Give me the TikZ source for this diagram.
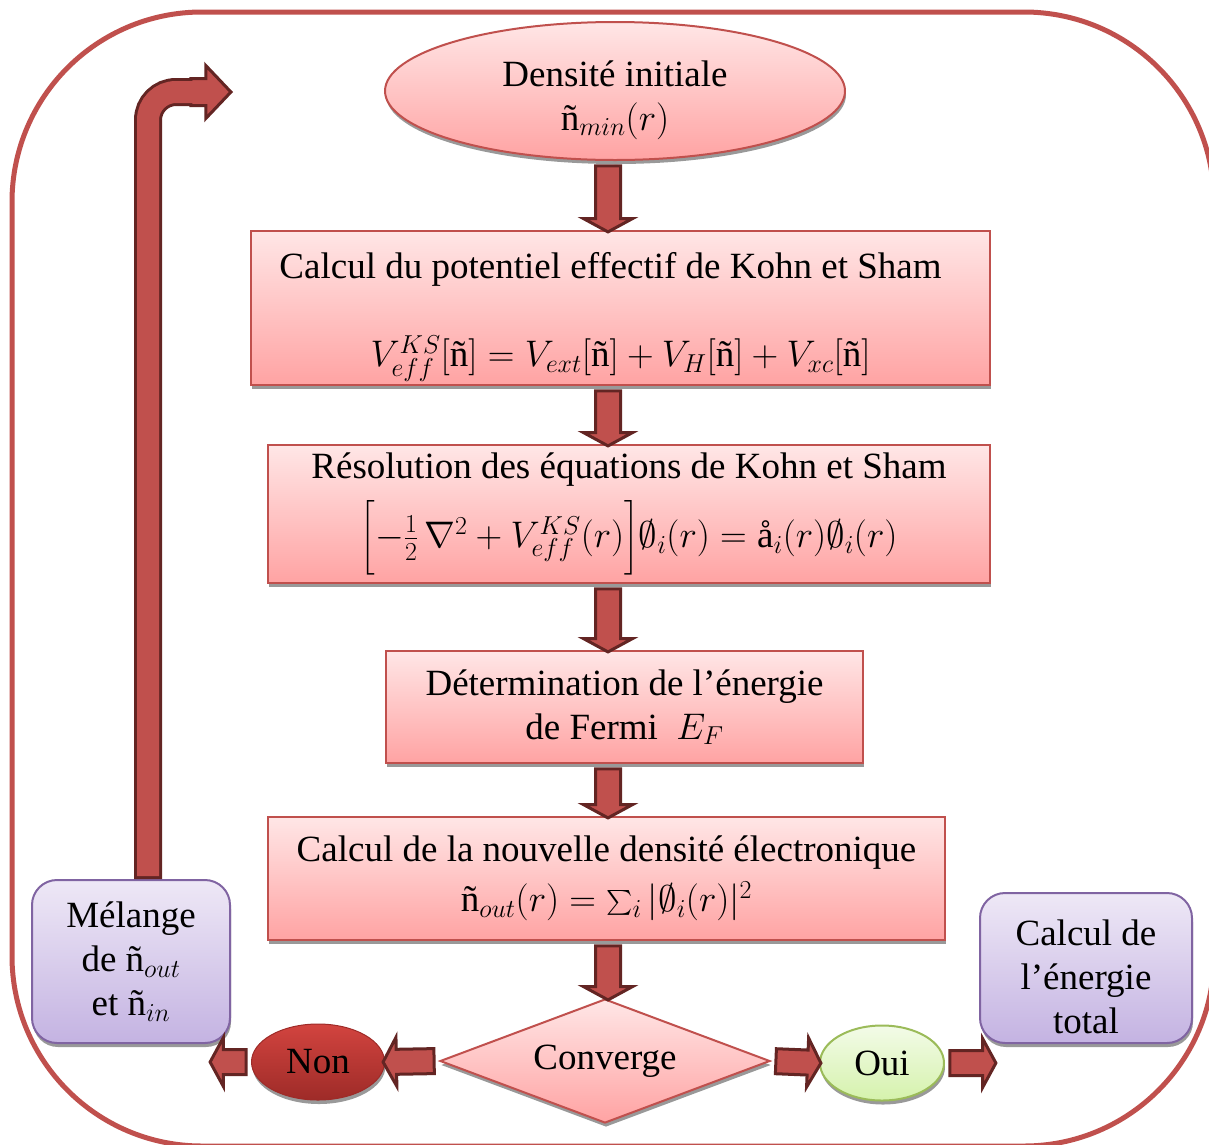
\RequirePackage{fix-cm}
\documentclass[tikz,border=0pt]{standalone}
\usepackage{amsmath}
\usepackage{fontspec}
\setmainfont{Liberation Serif}
\usetikzlibrary{shapes.geometric}
\usetikzlibrary{shapes.arrows}
\usetikzlibrary{shadows}
\usetikzlibrary{calc}
\definecolor{kred}{HTML}{C0504D}
\definecolor{kdark}{HTML}{632523}
\definecolor{pinktop}{HTML}{FFE6E6}
\definecolor{pinkbot}{HTML}{FFA3A3}
\definecolor{lilatop}{HTML}{EEE8F6}
\definecolor{lilabot}{HTML}{C4B3E2}
\definecolor{lilaborder}{HTML}{8064A2}
\definecolor{nontop}{HTML}{D2443F}
\definecolor{nonbot}{HTML}{9E2B28}
\definecolor{ouitop}{HTML}{F3FBE8}
\definecolor{ouibot}{HTML}{D5F2AC}
\definecolor{ouiborder}{HTML}{9BBB59}
\newcommand\dens{\text{ñ}}
\tikzset{
  base/.style      = { font=\fontsize{37}{44}\selectfont, inner sep=0pt, align=center },
  boxshadow/.style = { drop shadow={shadow xshift=1pt, shadow yshift=-4pt, fill=black!40, opacity=1} },
  pinkfill/.style  = { draw=kred, line width=2pt, top color=pinktop, bottom color=pinkbot, boxshadow },
}
\tikzset{
  calcbox/.style   = { base, rectangle, pinkfill },
  startnode/.style = { base, ellipse, pinkfill },
  testnode/.style  = { base, diamond, pinkfill, shape aspect=2.6 },
  mixbox/.style    = { base, rectangle, rounded corners=25pt, draw=lilaborder, line width=2pt,
                       top color=lilatop, bottom color=lilabot, boxshadow },
  nonnode/.style   = { base, ellipse, draw=nonbot, line width=1pt, top color=nontop, bottom color=nonbot, boxshadow },
  ouinode/.style   = { base, ellipse, draw=ouiborder, line width=2pt, top color=ouitop, bottom color=ouibot, boxshadow },
  bigarrow/.style  = { single arrow, draw=kdark, fill=kred, line width=3pt, inner sep=0pt, inner ysep=11pt,
                       single arrow head extend=12pt, single arrow tip angle=123, single arrow head indent=0pt },
  bendhead/.style  = { inner ysep=12pt, single arrow head extend=13pt, single arrow tip angle=93, minimum height=40pt },
}
% block arrow between two points
\newcommand\blockarrow[3]{%
  \path let \p1=(#2), \p2=(#3), \n1={veclen(\x2-\x1,\y2-\y1)-3pt} in
    (#2) -- (#3) node (#1) [bigarrow, midway, sloped, allow upside down, minimum height=\n1] {};}

\begin{document}
\begin{tikzpicture}[x=1pt,y=-1pt]
  \useasboundingbox (0,0) rectangle (1209,1144);
  \draw [kred, line width=5pt, rounded corners=190pt] (12,12) rectangle (1214,1146);

  \node (init) [startnode, minimum width=460pt, minimum height=138pt] at (615,91)
        {\rule{0pt}{44pt}Densité initiale\\$\dens_{min}(r)$};
  \node (pot)  [calcbox, minimum width=739pt, minimum height=154pt] at (620.5,308)
        {\rule{0pt}{44pt}Calcul du potentiel effectif de Kohn et Sham\hspace*{20pt}\\[44pt]
         $V^{KS}_{eff}[\dens]=V_{ext}[\dens]+V_H[\dens]+V_{xc}[\dens]$};
  \node (ks)   [calcbox, minimum width=722pt, minimum height=138pt] at (629,514)
        {Résolution des équations de Kohn et Sham\\[14pt]
         $\Bigl[-\genfrac{}{}{}{1}{1}{2}\,\nabla^2+V^{KS}_{eff}(r)\Bigr]\emptyset_i(r)=\text{å}_i(r)\emptyset_i(r)$};
  \node (fermi)[calcbox, minimum width=477pt, minimum height=112pt] at (624.5,707)
        {Détermination de l’énergie\\de Fermi~ $E_F$};
  \node (dens) [calcbox, minimum width=677pt, minimum height=123pt] at (606.5,878.5)
        {Calcul de la nouvelle densité électronique\\[6pt]$\dens_{out}(r)=\sum_i|\emptyset_i(r)|^2$};
  \node (conv) [testnode, minimum width=330pt, minimum height=124pt] at (605,1061) {Converge};
  \node (non)  [nonnode, minimum width=133pt, minimum height=76pt] at (318,1062) {Non};
  \node (oui)  [ouinode, minimum width=124pt, minimum height=75pt] at (882,1063) {Oui};
  \node (mix)  [mixbox, minimum width=198pt, minimum height=163pt] at (131,961.5)
        {Mélange\\de $\dens_{out}$\\et $\dens_{in}$};
  \node (etot) [mixbox, minimum width=212pt, minimum height=150pt] at (1086,968)
        {\rule{0pt}{44pt}Calcul de\\l’énergie\\total};

  \coordinate (spine)    at (608,0);
  \coordinate (mixin)    at (212,1062);
  \coordinate (totin)    at (994,1063);
  \coordinate (loopend)  at (233,92);
  \coordinate (loopbase) at (212,92);

  \blockarrow{a1}{init.south -| spine}{pot.north -| spine}
  \blockarrow{a2}{pot.south -| spine}{ks.north -| spine}
  \blockarrow{a3}{ks.south -| spine}{fermi.north -| spine}
  \blockarrow{a4}{fermi.south -| spine}{dens.north -| spine}
  \blockarrow{a5}{dens.south -| spine}{conv.north -| spine}
  \blockarrow{a6}{conv.west}{non.east}
  \blockarrow{a7}{non.west}{mixin}
  \blockarrow{a8}{conv.east}{oui.west}
  \blockarrow{a9}{oui.east}{totin}

  % return loop
  \draw [kdark, line width=28pt, rounded corners=28pt] ($(mix.north)+(17,0)$) |- (loopbase);
  \node (loophead) [bigarrow, bendhead, anchor=tip] at (loopend) {};
  \draw [kred, line width=22pt, rounded corners=28pt] ($(mix.north)+(17,-3)$) |- (loopbase);
\end{tikzpicture}
\end{document}
